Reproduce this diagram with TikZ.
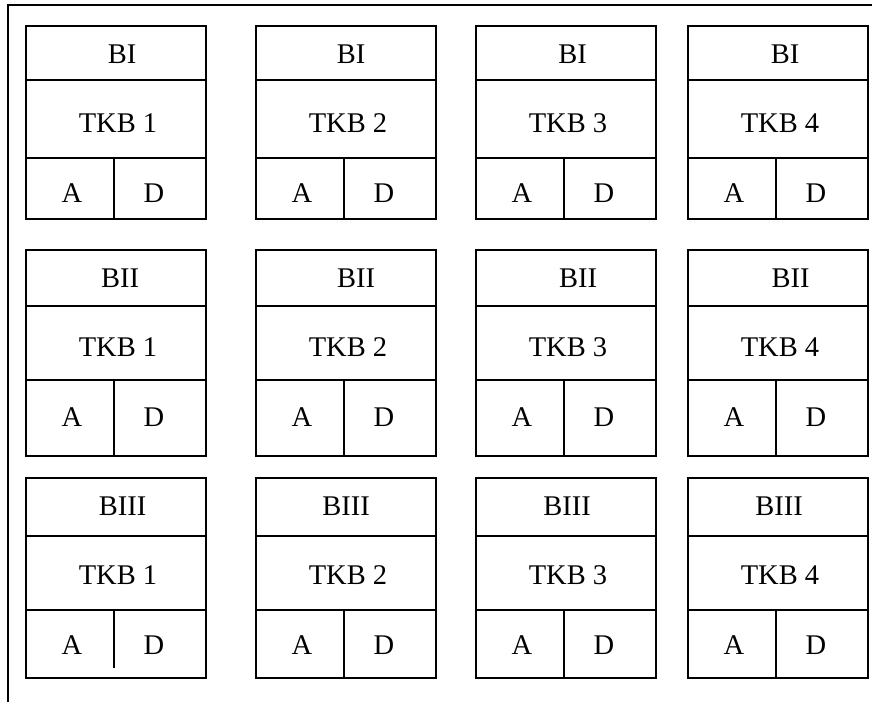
\documentclass[tikz,border=0pt]{standalone}
\usepackage{fontspec}
\setmainfont{Liberation Serif}
\begin{document}
\begin{tikzpicture}[x=1pt,y=-1pt,line width=1.3pt,
  lbl/.style={font=\fontsize{28.5}{30}\selectfont,inner sep=0pt,anchor=center}]
\useasboundingbox (0,0) rectangle (872,702);
\coordinate (fa) at (8,702);
\coordinate (fb) at (8,5);
\coordinate (fc) at (872,5);
\draw (fa) -- (fb) -- (fc);
\foreach \r/\top/\da/\db/\bot/\name/\oa/\ob/\oc/\od in {
  1/26/80/158/219/BI/96/95/96.5/97,
  2/250/306/380/456/BII/94/100/102/102.5,
  3/478/536/610/678/BIII/96.5/90/91/91} {
  \foreach \c/\l/\o in {1/26/\oa,2/256/\ob,3/476/\oc,4/688/\od} {
    \pgfmathsetmacro\vb{(\r==3 && \c==1) ? 668 : \bot}
    \draw (\l,\top) rectangle (\l+180,\bot);
    \draw (\l,\da) -- (\l+180,\da);
    \draw (\l,\db) -- (\l+180,\db);
    \draw (\l+88,\db) -- (\l+88,\vb);
    \node[lbl] (t-\r-\c) at (\l+\o,\top+28.5) {\name};
    \node[lbl] (k-\r-\c) at (\l+92,\top+97.5) {TKB \c};
    \node[lbl] (a-\r-\c) at (\l+46,\top+167) {A};
    \node[lbl] (d-\r-\c) at (\l+128,\top+167) {D};
  }
}
\end{tikzpicture}
\end{document}
